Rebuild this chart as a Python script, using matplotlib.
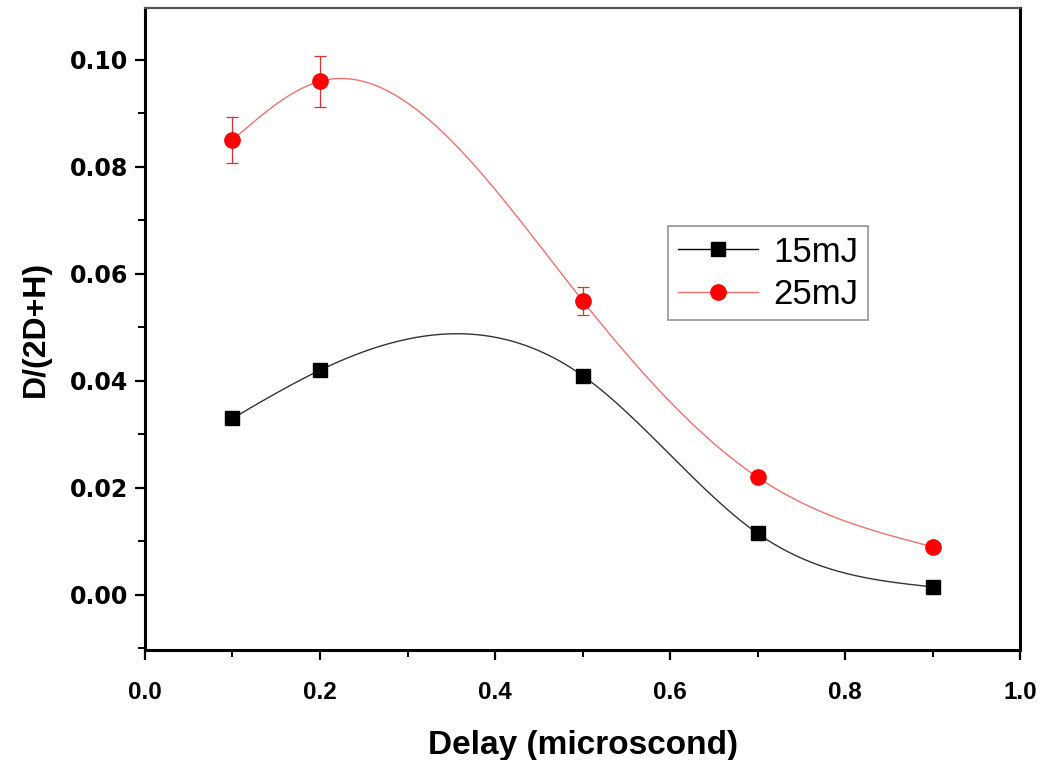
import numpy as np
import matplotlib
matplotlib.use("Agg")
import matplotlib.pyplot as plt
from matplotlib.ticker import MultipleLocator, FormatStrFormatter

# Measured values
delay = [0.1, 0.2, 0.5, 0.7, 0.9]
ratio_15mJ = [0.033, 0.042, 0.041, 0.0115, 0.0015]
ratio_25mJ = [0.085, 0.096, 0.055, 0.022, 0.009]
err_25mJ = [0.0043, 0.0048, 0.0026, 0.0008, 0.0006]
series_labels = ["15mJ", "25mJ"]
x_label = "Delay (microscond)"
y_label = "D/(2D+H)"


def natural_spline(x, y, xs):
    """Natural cubic spline through (x, y), evaluated at xs."""
    x = np.asarray(x, float)
    y = np.asarray(y, float)
    n = len(x)
    h = np.diff(x)
    A = np.zeros((n, n))
    b = np.zeros(n)
    A[0, 0] = 1.0
    A[-1, -1] = 1.0
    for i in range(1, n - 1):
        A[i, i - 1] = h[i - 1]
        A[i, i] = 2 * (h[i - 1] + h[i])
        A[i, i + 1] = h[i]
        b[i] = 6 * ((y[i + 1] - y[i]) / h[i] - (y[i] - y[i - 1]) / h[i - 1])
    M = np.linalg.solve(A, b)
    idx = np.clip(np.searchsorted(x, xs) - 1, 0, n - 2)
    x0, x1 = x[idx], x[idx + 1]
    hh = x1 - x0
    t0 = x1 - xs
    t1 = xs - x0
    return (M[idx] * t0 ** 3 / (6 * hh) + M[idx + 1] * t1 ** 3 / (6 * hh)
            + (y[idx] / hh - M[idx] * hh / 6) * t0
            + (y[idx + 1] / hh - M[idx + 1] * hh / 6) * t1)


plt.rcParams["font.family"] = ["Liberation Sans", "DejaVu Sans"]

fig = plt.figure(figsize=(10.43, 7.6), dpi=100)
ax = fig.add_axes([0.139, 0.1447, 0.839, 0.8448])

xs = np.linspace(min(delay), max(delay), 400)

# smooth connecting curves
ax.plot(xs, natural_spline(delay, ratio_15mJ, xs), color="#333333", lw=1.0, zorder=2)
ax.plot(xs, natural_spline(delay, ratio_25mJ, xs), color="#f27070", lw=1.0, zorder=2)

# markers
ax.plot(delay, ratio_15mJ, linestyle="none", marker="s", markersize=10,
        color="black", zorder=4)
ax.errorbar(delay, ratio_25mJ, yerr=err_25mJ, fmt="o", markersize=11,
            color="red", ecolor="#e03030", elinewidth=0.9, capsize=4.5,
            capthick=0.9, zorder=4)

# legend proxies: line + marker
h15, = ax.plot([], [], color="black", lw=1.0, marker="s", markersize=10)
h25, = ax.plot([], [], color="#f27070", lw=1.0, marker="o", markersize=11,
               markerfacecolor="red", markeredgecolor="red")
leg = ax.legend([h15, h25], series_labels, loc="upper left",
                bbox_to_anchor=(0.598, 0.66), fontsize=25, frameon=True,
                fancybox=False, edgecolor="#777777", handlelength=2.3,
                handletextpad=0.45, labelspacing=0.26, borderpad=0.27,
                borderaxespad=0)
leg.get_frame().set_linewidth(1.2)

ax.set_xlim(0.0, 1.0)
ax.set_ylim(-0.0103, 0.1097)

ax.xaxis.set_major_locator(MultipleLocator(0.2))
ax.xaxis.set_minor_locator(MultipleLocator(0.1))
ax.yaxis.set_major_locator(MultipleLocator(0.02))
ax.yaxis.set_minor_locator(MultipleLocator(0.01))
ax.xaxis.set_major_formatter(FormatStrFormatter("%.1f"))
ax.yaxis.set_major_formatter(FormatStrFormatter("%.2f"))

ax.tick_params(which="major", direction="out", length=7, width=1.6,
               top=False, right=False)
ax.tick_params(which="minor", direction="out", length=5, width=1.4,
               top=False, right=False)
ax.tick_params(axis="x", which="major", pad=15)
ax.tick_params(axis="y", which="major", pad=5)
for lab in ax.get_xticklabels():
    lab.set_fontweight("bold")
    lab.set_fontsize(17.5)
for lab in ax.get_yticklabels():
    lab.set_fontweight("bold")
    lab.set_fontsize(17)
    lab.set_family("DejaVu Sans")

for side in ["left", "bottom", "right"]:
    ax.spines[side].set_linewidth(2.2)
ax.spines["top"].set_linewidth(1.6)
ax.spines["top"].set_color("#555555")

ax.set_xlabel(x_label, fontsize=24, fontweight="bold", labelpad=19)
ax.set_ylabel(y_label, fontsize=23, fontweight="bold", labelpad=14)

fig.savefig("out.png", dpi=100, facecolor="white")
